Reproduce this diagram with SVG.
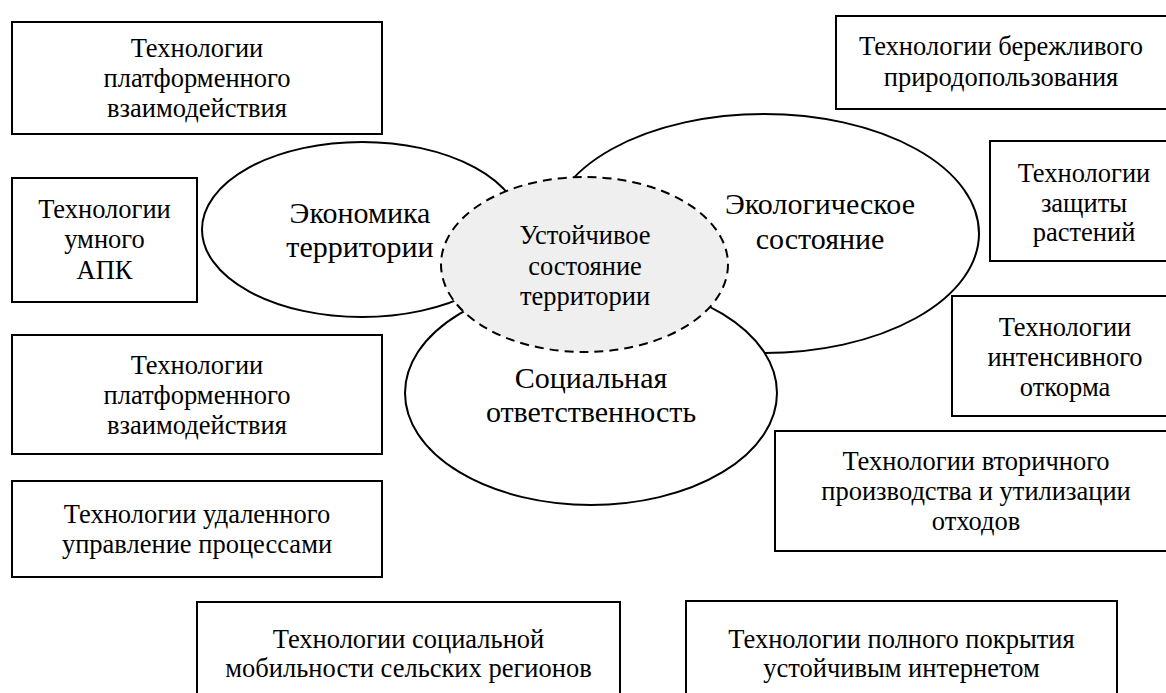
<svg xmlns="http://www.w3.org/2000/svg" width="1166" height="693" viewBox="0 0 1166 693">
<style>
.box{fill:#fff;stroke:#000;stroke-width:2}
.ell{fill:#fff;stroke:#000;stroke-width:2}
.core{fill:#efefef;stroke:#000;stroke-width:2;stroke-dasharray:9 6}
text{font-family:"Liberation Serif","Times New Roman",serif;fill:#000;text-anchor:middle}
.t{font-size:26.5px}
.e{font-size:30px}
</style>
<rect width="1166" height="693" fill="#fff"/>
<g id="connectors"></g>
<g id="n-platform1"><rect class="box" x="12" y="22" width="370" height="112"/>
<text class="t" x="197" y="57">Технологии</text><text class="t" x="197" y="87">платформенного</text><text class="t" x="197" y="117">взаимодействия</text></g>
<g id="n-smart"><rect class="box" x="12" y="178" width="185" height="124"/>
<text class="t" x="104.5" y="218">Технологии</text><text class="t" x="104.5" y="248">умного</text><text class="t" x="104.5" y="279">АПК</text></g>
<g id="n-platform2"><rect class="box" x="12" y="335" width="370" height="119"/>
<text class="t" x="197" y="374">Технологии</text><text class="t" x="197" y="404">платформенного</text><text class="t" x="197" y="434">взаимодействия</text></g>
<g id="n-remote"><rect class="box" x="12" y="481" width="370" height="96"/>
<text class="t" x="197" y="523">Технологии удаленного</text><text class="t" x="197" y="553">управление процессами</text></g>
<g id="n-mobility"><rect class="box" x="197" y="602" width="423" height="110"/>
<text class="t" x="408.5" y="648">Технологии социальной</text><text class="t" x="408.5" y="677">мобильности сельских регионов</text></g>
<g id="n-internet"><rect class="box" x="686" y="601" width="431" height="110"/>
<text class="t" x="901.5" y="648">Технологии полного покрытия</text><text class="t" x="901.5" y="677">устойчивым интернетом</text></g>
<g id="n-lean"><rect class="box" x="836" y="16" width="340" height="93"/>
<text class="t" x="1001" y="55">Технологии бережливого</text><text class="t" x="1001" y="86">природопользования</text></g>
<g id="n-plants"><rect class="box" x="990" y="141" width="190" height="120"/>
<text class="t" x="1084" y="182">Технологии</text><text class="t" x="1084" y="212">защиты</text><text class="t" x="1084" y="241">растений</text></g>
<g id="n-feeding"><rect class="box" x="952" y="296" width="228" height="120"/>
<text class="t" x="1065" y="336">Технологии</text><text class="t" x="1065" y="366">интенсивного</text><text class="t" x="1065" y="396">откорма</text></g>
<g id="n-recycling"><rect class="box" x="775" y="431" width="405" height="120"/>
<text class="t" x="976" y="470">Технологии вторичного</text><text class="t" x="976" y="500">производства и утилизации</text><text class="t" x="976" y="530">отходов</text></g>
<g id="n-economy"><ellipse class="ell" cx="362" cy="229.5" rx="160" ry="87.5"/>
<text class="e" x="360" y="223">Экономика</text><text class="e" x="360" y="257">территории</text></g>
<g id="n-ecology"><ellipse class="ell" cx="764" cy="233.5" rx="215" ry="119.5"/>
<text class="e" x="820" y="214">Экологическое</text><text class="e" x="820" y="249">состояние</text></g>
<g id="n-social"><ellipse class="ell" cx="591" cy="393" rx="186" ry="112"/>
<text class="e" x="591" y="388">Социальная</text><text class="e" x="591" y="422">ответственность</text></g>
<g id="n-core"><ellipse class="core" cx="584.5" cy="264.5" rx="143.5" ry="87.5"/>
<text class="t" x="585" y="244">Устойчивое</text><text class="t" x="585" y="275">состояние</text><text class="t" x="585" y="305">территории</text></g>
</svg>
